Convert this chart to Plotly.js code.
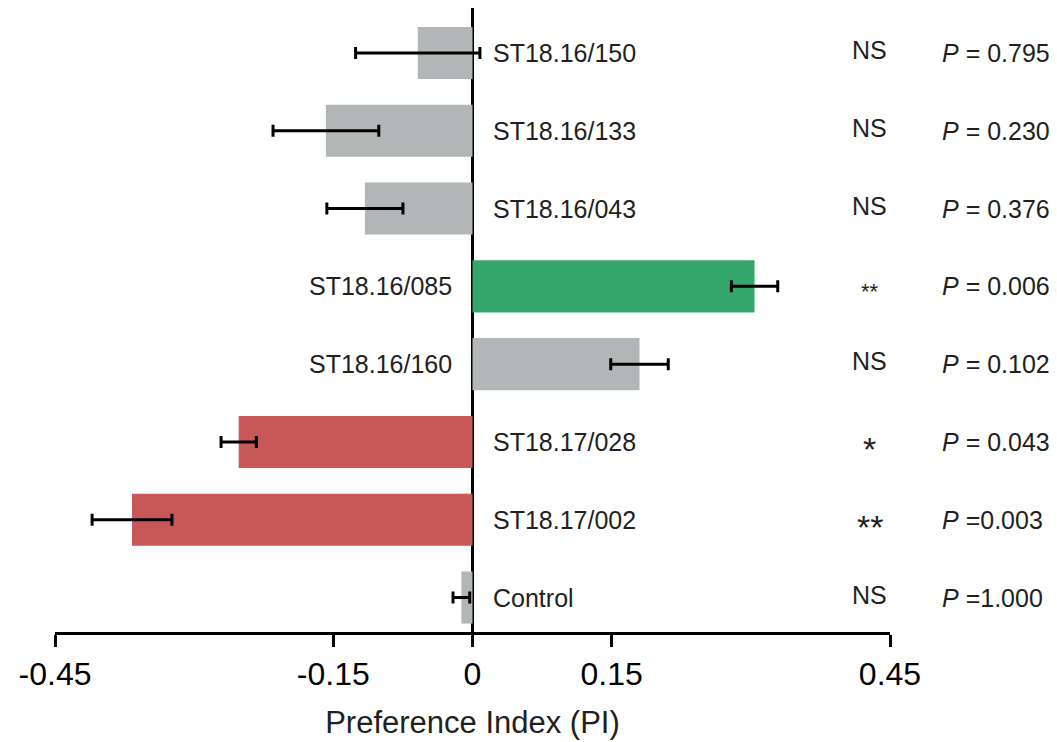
<!DOCTYPE html>
<html>
<head>
<meta charset="utf-8">
<script src="https://cdn.plot.ly/plotly-3.0.1.min.js"></script>
<style>html,body{margin:0;padding:0;background:#fff;}#chart{width:1057px;height:742px;}</style>
</head>
<body>
<div id="chart"></div>
<script>
// ---- data ----
const lines = ["ST18.16/150","ST18.16/133","ST18.16/043","ST18.16/085","ST18.16/160","ST18.17/028","ST18.17/002","Control"];
const pi = [-0.059, -0.158, -0.116, 0.304, 0.180, -0.252, -0.367, -0.012];
const sem = [0.067, 0.057, 0.041, 0.025, 0.031, 0.019, 0.043, 0.009];
const signif = ["NS","NS","NS","**","NS","*","**","NS"];
const pText = ["= 0.795","= 0.230","= 0.376","= 0.006","= 0.102","= 0.043","=0.003","=1.000"];
const barColors = ["#b3b6b6","#b3b6b6","#b3b6b6","#34a66c","#b3b6b6","#c85858","#c85858","#b3b6b6"];
const tickVals = [-0.45, -0.15, 0, 0.15, 0.45];
const tickText = ["-0.45", "-0.15", "0", "0.15", "0.45"];
const starSize = [0, 0, 0, 22, 0, 34, 34, 0];

// ---- chart ----
const FONT = "Liberation Sans, Arial, Helvetica, sans-serif";
const TXT = "#231f20";
const idx = lines.map((_, i) => i);

const trace = {
  type: "bar",
  orientation: "h",
  x: pi,
  y: idx,
  width: 0.67,
  marker: {color: barColors, line: {width: 0}},
  error_x: {type: "data", array: sem, visible: true, color: "#000", thickness: 3, width: 6},
  hoverinfo: "none",
  showlegend: false
};

const annotations = [];
lines.forEach((name, i) => {
  const neg = pi[i] < 0;
  annotations.push({
    x: 0, y: i, xref: "x", yref: "y", text: name, showarrow: false,
    xanchor: neg ? "left" : "right", yanchor: "middle",
    xshift: neg ? 18 : -19,
    font: {family: FONT, size: 25, color: TXT}
  });
  const isStar = signif[i].indexOf("*") >= 0;
  annotations.push({
    x: 0.976, y: i, xref: "paper", yref: "y", text: signif[i], showarrow: false,
    xanchor: "center", yanchor: "middle",
    yshift: isStar ? -starSize[i] * 0.22 : 3,
    font: {family: FONT, size: isStar ? starSize[i] : 25, color: TXT}
  });
  annotations.push({
    x: 1.0599, y: i, xref: "paper", yref: "y", text: "<i>P</i> " + pText[i], showarrow: false,
    xanchor: "left", yanchor: "middle",
    font: {family: FONT, size: 25, color: TXT}
  });
});

const layout = {
  width: 1057, height: 742,
  margin: {l: 55, r: 167, t: 8, b: 110, pad: 0},
  paper_bgcolor: "#fff", plot_bgcolor: "#fff",
  showlegend: false,
  xaxis: {
    range: [-0.45, 0.45],
    tickvals: tickVals, ticktext: tickText,
    ticks: "outside", ticklen: 12, tickwidth: 3, tickcolor: "#000",
    showline: true, linewidth: 3, linecolor: "#000",
    showgrid: false,
    zeroline: true, zerolinecolor: "#000", zerolinewidth: 3,
    tickfont: {family: FONT, size: 32, color: "#000"},
    title: {text: "Preference Index (PI)", font: {family: FONT, size: 31, color: TXT}, standoff: 20},
    fixedrange: true
  },
  yaxis: {
    range: [7.443, -0.578],
    showticklabels: false, ticks: "", showline: false, showgrid: false, zeroline: false,
    fixedrange: true
  },
  annotations: annotations
};

Plotly.newPlot("chart", [trace], layout, {displayModeBar: false, staticPlot: true});
</script>
</body>
</html>
